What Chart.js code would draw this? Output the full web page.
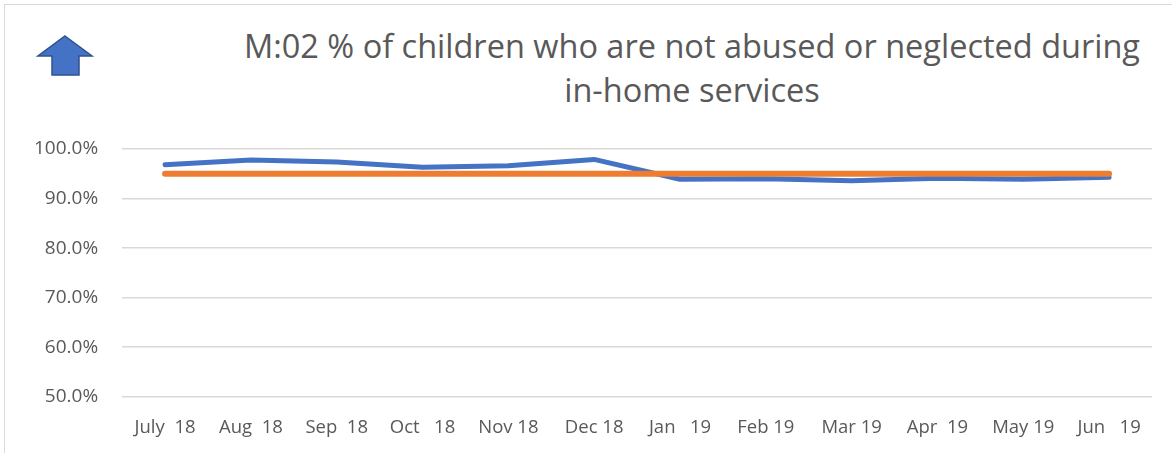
<!DOCTYPE html>
<html>
<head>
<meta charset="utf-8">
<script src="https://cdn.jsdelivr.net/npm/chart.js@4"></script>
<style>
  html, body { margin: 0; padding: 0; background: #fff; }
  #wrap { position: relative; width: 1172px; height: 453px; overflow: hidden; }
  #frame { position: absolute; left: 4px; top: 4px; width: 1200px; height: 500px; border: 1px solid #d9d9d9; box-sizing: border-box; }
  #title { position: absolute; left: 192px; width: 1000px; top: 24px; text-align: center;
    font-family: "Open Sans", Lato, sans-serif; font-size: 32.5px; line-height: 44px; color: #595959; }
  #arrow { position: absolute; left: 36px; top: 34px; }
  canvas { position: absolute; left: 0; top: 0; }
</style>
</head>
<body>
<div id="wrap">
  <div id="frame"></div>
  <svg id="arrow" width="60" height="44" viewBox="0 0 60 44">
    <polygon points="29,2 56,22 43,22 43,41 16,41 16,22 2,22" fill="#4472c4" stroke="#2f528f" stroke-width="1.5" />
  </svg>
  <div id="title">M:02 % of children who are not abused or neglected during<br>in-home services</div>
  <canvas id="myChart" width="1172" height="474"></canvas>
</div>
<script>
const months = ['July  18', 'Aug  18', 'Sep  18', 'Oct   18', 'Nov 18', 'Dec 18',
  'Jan   19', 'Feb 19', 'Mar 19', 'Apr  19', 'May 19', 'Jun   19']
const actual = [96.8, 97.8, 97.4, 96.3, 96.6, 97.9, 93.9, 94.0, 93.6, 94.1, 93.9, 94.3]
const target = [95, 95, 95, 95, 95, 95, 95, 95, 95, 95, 95, 95]

const textColor = '#595959'
const fontFamily = '"Open Sans", Lato, sans-serif'

const config = {
  type: 'line',
  data: {
    labels: months,
    datasets: [{
      label: 'Actual',
      data: actual,
      borderColor: '#4472c4',
      backgroundColor: '#4472c4',
      borderWidth: 5,
      pointRadius: 0,
      borderCapStyle: 'round',
      borderJoinStyle: 'round',
      order: 2
    }, {
      label: 'Target',
      data: target,
      borderColor: '#ed7d31',
      backgroundColor: '#ed7d31',
      borderWidth: 6,
      pointRadius: 0,
      borderCapStyle: 'round',
      order: 1
    }]
  },
  options: {
    responsive: false,
    animation: false,
    layout: { padding: { top: 149, right: 20, bottom: 15, left: 10 } },
    plugins: {
      legend: { display: false },
      title: { display: false },
      tooltip: { enabled: false }
    },
    scales: {
      x: {
        offset: true,
        grid: { display: false, drawTicks: false },
        border: { display: false },
        ticks: {
          color: textColor,
          padding: 20,
          maxRotation: 0,
          autoSkip: false,
          font: { family: fontFamily, size: 18.5 }
        }
      },
      y: {
        min: 50,
        max: 100,
        grid: { color: '#d9d9d9', lineWidth: 1.5, drawTicks: false },
        border: { display: false },
        ticks: {
          stepSize: 10,
          color: textColor,
          padding: 24,
          font: { family: fontFamily, size: 19 },
          callback: (v) => v.toFixed(1) + '%'
        }
      }
    }
  }
}

const myChart = new Chart(document.getElementById('myChart'), config)
</script>
</body>
</html>
